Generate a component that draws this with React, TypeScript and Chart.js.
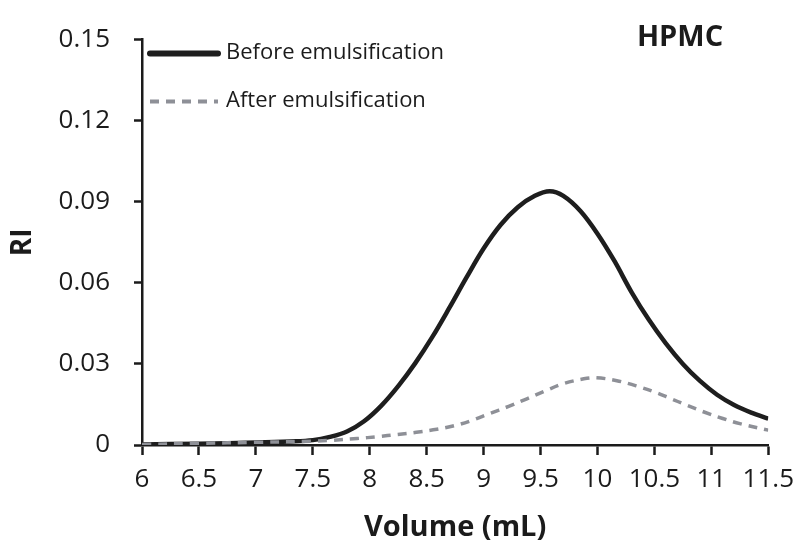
import React, { useEffect, useRef } from "react";
import { Chart, registerables } from "chart.js";

Chart.register(...registerables);

// ---- data ----
const beforeVolume = [6, 6.5, 7, 7.3, 7.5, 7.65, 7.8, 7.95, 8.1, 8.25, 8.4, 8.55, 8.7, 8.85, 9.0, 9.15, 9.3, 9.45, 9.58, 9.7, 9.85, 10.0, 10.15, 10.3, 10.45, 10.6, 10.75, 10.9, 11.05, 11.2, 11.35, 11.5];
const beforeRI = [0.0002, 0.0005, 0.0009, 0.0013, 0.0018, 0.003, 0.005, 0.0088, 0.0145, 0.0218, 0.0303, 0.04, 0.0508, 0.062, 0.0727, 0.0815, 0.088, 0.0922, 0.0939, 0.0922, 0.0866, 0.0782, 0.068, 0.0565, 0.0464, 0.0376, 0.03, 0.0237, 0.0186, 0.0148, 0.012, 0.0098];

const afterVolume = [6, 6.5, 7, 7.5, 7.65, 7.89, 8.07, 8.24, 8.41, 8.59, 8.74, 8.89, 9.05, 9.22, 9.38, 9.54, 9.7, 9.88, 9.99, 10.17, 10.34, 10.52, 10.63, 10.78, 10.93, 11.1, 11.25, 11.5];
const afterRI = [0.0002, 0.0006, 0.001, 0.0014, 0.0017, 0.0024, 0.0031, 0.0039, 0.0047, 0.0058, 0.0071, 0.009, 0.0116, 0.0143, 0.0171, 0.02, 0.0227, 0.0245, 0.0249, 0.0238, 0.0219, 0.0193, 0.0174, 0.0148, 0.0123, 0.0098, 0.0079, 0.0055];

const xTicks = [6, 6.5, 7, 7.5, 8, 8.5, 9, 9.5, 10, 10.5, 11, 11.5];
const yTicks = [0, 0.03, 0.06, 0.09, 0.12, 0.15];

const seriesLabels = ["Before emulsification", "After emulsification"];
const panelLabel = "HPMC";
const xTitle = "Volume (mL)";
const yTitle = "RI";

const FONT = "'Open Sans', 'DejaVu Sans', sans-serif";
const INK = "#1b1b1b";

export default function App() {
  const ref = useRef<HTMLCanvasElement>(null);

  useEffect(() => {
    const canvas = ref.current;
    if (!canvas) return;

    const overlay = {
      id: "overlay",
      afterDraw(chart: any) {
        const { ctx, chartArea } = chart;
        const ds = chart.data.datasets;
        ctx.save();
        const x0 = chartArea.left + 8;
        const x1 = x0 + 68;
        const tx = x1 + 8;
        const rows = [chartArea.top + 14, chartArea.top + 62];
        const widths = [6, 4];
        ds.forEach((d: any, i: number) => {
          ctx.beginPath();
          ctx.strokeStyle = d.borderColor;
          ctx.lineWidth = widths[i];
          ctx.lineCap = i === 0 ? "round" : "butt";
          ctx.setLineDash(d.borderDash || []);
          ctx.moveTo(x0, rows[i]);
          ctx.lineTo(x1, rows[i]);
          ctx.stroke();
          ctx.setLineDash([]);
          ctx.fillStyle = INK;
          ctx.font = `22px ${FONT}`;
          ctx.textAlign = "left";
          ctx.textBaseline = "middle";
          ctx.fillText(d.label, tx, rows[i] - 1);
        });
        ctx.font = `bold 29px ${FONT}`;
        ctx.textAlign = "center";
        ctx.textBaseline = "middle";
        ctx.fillStyle = INK;
        ctx.fillText(panelLabel, 680, chartArea.top - 2);
        ctx.restore();
      },
    };

    const chart = new Chart(canvas, {
      type: "line",
      data: {
        datasets: [
          {
            label: seriesLabels[0],
            data: beforeVolume.map((x, i) => ({ x, y: beforeRI[i] })),
            borderColor: "#1e1e1e",
            borderWidth: 4.5,
            pointRadius: 0,
            tension: 0.35,
            order: 2,
          },
          {
            label: seriesLabels[1],
            data: afterVolume.map((x, i) => ({ x, y: afterRI[i] })),
            borderColor: "#8e9097",
            borderWidth: 3.5,
            borderDash: [9, 7],
            pointRadius: 0,
            tension: 0.35,
            order: 1,
          },
        ],
      },
      options: {
        animation: false,
        responsive: false,
        events: [],
        layout: { padding: { top: 27, right: 33, left: 0, bottom: 0 } },
        plugins: {
          legend: { display: false },
          tooltip: { enabled: false },
        },
        scales: {
          x: {
            type: "linear",
            min: 6,
            max: 11.5,
            afterBuildTicks: (s: any) => {
              s.ticks = xTicks.map((v) => ({ value: v }));
            },
            afterFit: (s: any) => {
              s.height = 105;
            },
            ticks: {
              color: INK,
              font: { family: FONT, size: 26 },
              padding: 9,
              maxRotation: 0,
              autoSkip: false,
              callback: (v: any) => String(v),
            },
            grid: {
              drawOnChartArea: false,
              drawTicks: true,
              tickLength: 10,
              tickWidth: 2.5,
              tickColor: INK,
            },
            border: { display: true, color: INK, width: 2.5 },
            title: {
              display: true,
              text: xTitle,
              color: INK,
              font: { family: FONT, size: 29, weight: "bold" },
              padding: { top: 0, bottom: 5 },
            },
          },
          y: {
            type: "linear",
            min: 0,
            max: 0.15,
            afterBuildTicks: (s: any) => {
              s.ticks = yTicks.map((v) => ({ value: v }));
            },
            afterFit: (s: any) => {
              s.width = 142;
            },
            ticks: {
              color: INK,
              font: { family: FONT, size: 26 },
              padding: 24,
              callback: (v: any) => (v === 0 ? "0" : Number(v).toFixed(2)),
            },
            grid: {
              drawOnChartArea: false,
              drawTicks: true,
              tickLength: 8,
              tickWidth: 2.5,
              tickColor: INK,
            },
            border: { display: true, color: INK, width: 2.5 },
            title: {
              display: true,
              text: yTitle,
              color: INK,
              font: { family: FONT, size: 28, weight: "bold" },
              padding: { top: 6, bottom: 0 },
            },
          },
        },
      },
      plugins: [overlay],
    } as any);

    return () => chart.destroy();
  }, []);

  return (
    <div style={{ position: "fixed", left: 0, top: 0, width: 803, height: 550, background: "#fff" }}>
      <canvas ref={ref} width={803} height={550} style={{ display: "block" }} />
    </div>
  );
}
